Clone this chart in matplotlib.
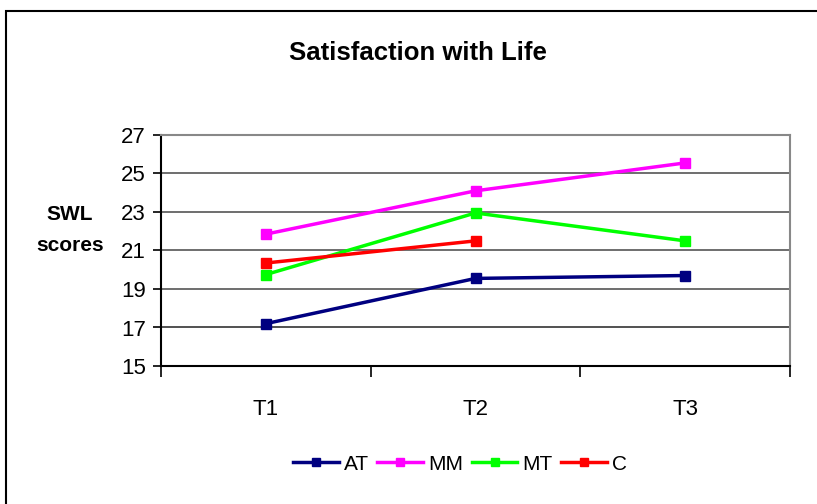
import matplotlib
matplotlib.use("Agg")
import matplotlib.pyplot as plt
from matplotlib.patches import Rectangle

plt.rcParams['font.family'] = ['Liberation Sans', 'DejaVu Sans']

categories = ["T1", "T2", "T3"]
series_names = ["AT", "MM", "MT", "C"]
at_values = [17.2, 19.55, 19.7]
mm_values = [21.85, 24.1, 25.55]
mt_values = [19.75, 22.95, 21.5]
c_values = [20.35, 21.5, None]
colors = ["#000080", "#FF00FF", "#00FF00", "#FF0000"]
yticks = [15, 17, 19, 21, 23, 25, 27]

fig = plt.figure(figsize=(8.17, 5.04), dpi=100)
fig.patches.append(Rectangle((6/817, -0.1), 1.2, 1 - 11/504 + 0.1, transform=fig.transFigure,
                             fill=False, edgecolor="black", lw=1.5, zorder=0))

ax = fig.add_axes([161/817, 1 - 366/504, (790 - 161)/817, (366 - 135)/504])
x = list(range(1, len(categories) + 1))
for name, vals, col in zip(series_names, [at_values, mm_values, mt_values, c_values], colors):
    xs = [xi for xi, v in zip(x, vals) if v is not None]
    ys = [v for v in vals if v is not None]
    ax.plot(xs, ys, color=col, lw=2.5, marker="s", markersize=7, label=name, zorder=3)

ax.set_xlim(0.5, 3.5)
ax.set_ylim(15, 27)
ax.set_yticks(yticks)
ax.set_yticklabels([str(t) for t in yticks], fontsize=16)
ax.set_xticks([0.5, 1.5, 2.5, 3.5])
ax.set_xticklabels([])
ax.set_xticks(x, minor=True)
ax.set_xticklabels(categories, minor=True, fontsize=16)
ax.tick_params(axis="x", which="minor", length=0, pad=24)
ax.tick_params(axis="x", which="major", length=8, width=1.2, color="black")
ax.tick_params(axis="y", length=6, width=1.2, pad=5)
for t in yticks:
    ax.axhline(t, color="#333333" if t in (17,) else "#555555", lw=1.2, zorder=1)
for side in ["top", "right"]:
    ax.spines[side].set_color("#888888")
    ax.spines[side].set_linewidth(1.5)
ax.spines["left"].set_linewidth(1.5)
ax.spines["bottom"].set_linewidth(1.5)

fig.text(418/817, 1 - 53/504, "Satisfaction with Life", ha="center", va="center",
         fontsize=18.5, fontweight="bold")
fig.text(70/817, 1 - 230/504, "SWL\nscores", ha="center", va="center",
         fontsize=15, fontweight="bold", linespacing=1.75)

leg = fig.legend(loc="center", bbox_to_anchor=(460/817, 1 - 464/504), ncol=4, frameon=False,
                 fontsize=15, handlelength=2.2, handletextpad=0.25, columnspacing=0.4,
                 markerscale=0.9)

fig.savefig("out.png", dpi=100)
